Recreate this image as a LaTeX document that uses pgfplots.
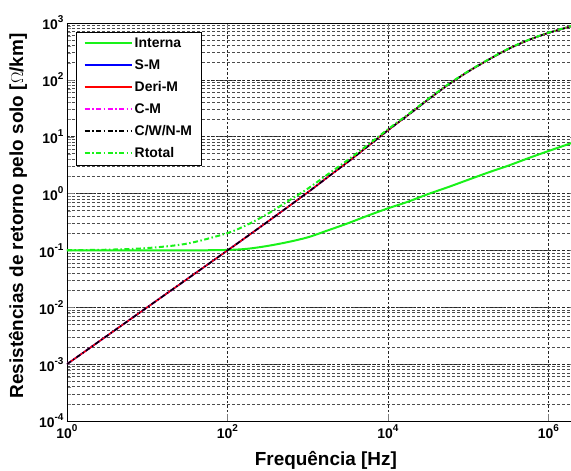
\documentclass[border=0pt]{standalone}
\usepackage{pgfplots}
\pgfplotsset{compat=1.18}
\usepackage{pgfplotstable}
\usepackage{fontspec}
\setmainfont{Liberation Sans}
\newcommand{\tp}[1]{10\raisebox{0.5em}{\fontsize{10}{10}\selectfont #1}}
\definecolor{colG}{rgb}{0.1,0.95,0.1}
\definecolor{colB}{rgb}{0,0,1}
\definecolor{colR}{rgb}{1,0,0}
\definecolor{colM}{rgb}{1,0,1}
\tikzset{dd/.style={dash pattern=on 5bp off 2.5bp on 1.5bp off 2.5bp}}

\pgfplotstableread{
f R
1 0.001
10 0.01
100 0.1
316 0.32
1000 1.05
1778 1.95
3162 3.6
5623 6.8
10000 13
17783 24
31623 45
56234 82
100000 140
177828 225
316228 350
562341 500
1000000 670
2240000 930
}\earth

\pgfplotstableread{
f R
1 0.1
10 0.1
31.6 0.1
100 0.102
178 0.107
316 0.12
562 0.14
1000 0.17
1778 0.225
3162 0.3
5623 0.41
10000 0.55
17783 0.72
31623 0.98
56234 1.3
100000 1.75
177828 2.35
316228 3.1
562341 4.2
1000000 5.6
2240000 8.3
}\interna

\pgfplotstableread{
f R
1 0.101
3.16 0.103
10 0.11
31.6 0.132
100 0.202
178 0.285
316 0.44
562 0.73
1000 1.22
1778 2.18
3162 3.9
5623 7.2
10000 13.55
17783 24.7
31623 46
56234 83.3
100000 141.8
177828 227.4
316228 353
562341 504
1000000 676
2240000 938
}\rtotal

\begin{document}
\begin{tikzpicture}
\begin{axis}[
  scale only axis, width=509.6bp, height=398bp,
  xmode=log, ymode=log,
  xmin=1, xmax=2.24e6, ymin=1e-4, ymax=1e3,
  xtick={1,100,10000,1000000},
  xticklabels={\tp{0},\tp{2},\tp{4},\tp{6}},
  minor xtick={},
  ytick={1e-4,1e-3,1e-2,1e-1,1,10,100,1000},
  yticklabels={\tp{-4},\tp{-3},\tp{-2},\tp{-1},\tp{0},\tp{1},\tp{2},\tp{3}},
  tick label style={font=\fontsize{14}{16}\selectfont\bfseries},
  tick align=inside,
  major tick length=7bp, minor tick length=4bp,
  axis line style={line width=0.9bp, black},
  xmajorgrids, ymajorgrids, yminorgrids,
  major grid style={dash pattern=on 2.5bp off 2bp, black!85, line width=0.6bp},
  minor grid style={dash pattern=on 3bp off 2bp, black!70, line width=0.7bp},
  xlabel={Frequência [Hz]},
  ylabel={Resistências de retorno pelo solo [$\Omega$/km]},
  label style={font=\fontsize{19}{22}\selectfont\bfseries},
  xlabel style={at={(axis description cs:0.508,-0.113)}, anchor=base},
  ylabel style={at={(axis description cs:-0.0962,0.515)}, anchor=center, rotate=0},
  legend style={at={(axis description cs:0.0177,0.977)}, anchor=north west,
    draw=black, fill=white,
    font=\fontsize{14}{16}\selectfont\bfseries,
    inner xsep=7.5bp, inner ysep=4bp, row sep=6.5bp},
  legend cell align=left,
  legend image code/.code={\draw[#1, line width=2bp] (0bp,0.5bp) -- (47bp,0.5bp);},
]
\addlegendimage{color=colG}
\addlegendentry{Interna}
\addlegendimage{color=colB}
\addlegendentry{S-M}
\addlegendimage{color=colR}
\addlegendentry{Deri-M}
\addlegendimage{color=colM, dd}
\addlegendentry{C-M}
\addlegendimage{color=black, dd}
\addlegendentry{C/W/N-M}
\addlegendimage{color=colG, dd}
\addlegendentry{Rtotal}
\addplot[forget plot, color=colG, line width=2bp, smooth] table[x=f,y=R] {\interna};
\addplot[forget plot, color=colB, line width=1.6bp, smooth] table[x=f,y=R] {\earth};
\addplot[forget plot, color=colR, line width=1.6bp, smooth] table[x=f,y=R] {\earth};
\addplot[forget plot, color=colM, line width=1.6bp, smooth, dd] table[x=f,y=R] {\earth};
\addplot[forget plot, color=black, line width=1.6bp, smooth, dd] table[x=f,y=R] {\earth};
\addplot[forget plot, color=colG, line width=2bp, smooth, dd] table[x=f,y=R] {\rtotal};
\end{axis}
\pgfresetboundingbox
\path[use as bounding box] (-67bp,-50bp) rectangle (504bp,421bp);
\end{tikzpicture}
\end{document}
